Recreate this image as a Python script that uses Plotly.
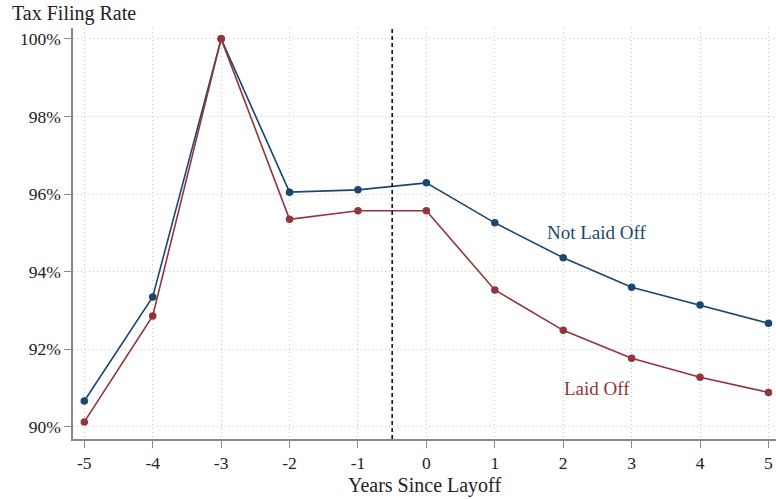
import plotly.graph_objects as go

years = [-5, -4, -3, -2, -1, 0, 1, 2, 3, 4, 5]
not_laid_off = [90.67, 93.35, 100.0, 96.05, 96.11, 96.29, 95.26, 94.36, 93.60, 93.14, 92.67]
laid_off = [90.13, 92.86, 100.0, 95.35, 95.57, 95.57, 93.53, 92.49, 91.77, 91.28, 90.89]
y_ticks = [90, 92, 94, 96, 98, 100]
y_tick_labels = ["90%", "92%", "94%", "96%", "98%", "100%"]
x_ticks = years
layoff_line_x = -0.5

BLUE = "#1a476f"
RED = "#90353b"
FONT = "Liberation Serif"

fig = go.Figure()
fig.add_trace(go.Scatter(x=years, y=not_laid_off, mode="lines+markers",
                         line=dict(color=BLUE, width=1.6),
                         marker=dict(color=BLUE, size=7.5), name="Not Laid Off"))
fig.add_trace(go.Scatter(x=years, y=laid_off, mode="lines+markers",
                         line=dict(color=RED, width=1.6),
                         marker=dict(color=RED, size=7.5), name="Laid Off"))

fig.add_shape(type="line", x0=layoff_line_x, x1=layoff_line_x, y0=0, y1=1,
              xref="x", yref="paper", line=dict(color="black", width=1.5, dash="4px,3px"))

fig.add_annotation(x=2.5, y=95.0, text="Not Laid Off", showarrow=False,
                   font=dict(color=BLUE, size=19, family=FONT))
fig.add_annotation(x=2.5, y=91.0, text="Laid Off", showarrow=False,
                   font=dict(color=RED, size=19, family=FONT))

fig.update_layout(
    width=776, height=499,
    margin=dict(l=73, r=0, t=28, b=60),
    plot_bgcolor="white", paper_bgcolor="white",
    showlegend=False,
    font=dict(family=FONT, size=17.5, color="#222222"),
)
fig.add_annotation(x=0, y=1, xref="paper", yref="paper", xanchor="left", yanchor="bottom",
                   xshift=-63, yshift=1,
                   text="Tax Filing Rate", showarrow=False,
                   font=dict(size=20, family=FONT, color="#222222"))

fig.update_xaxes(range=[-5.165, 5.11], tickmode="array", tickvals=x_ticks,
                 ticktext=[str(v) for v in x_ticks],
                 showgrid=True, gridcolor="#c8c8c8", griddash="1px,3px", gridwidth=1,
                 showline=True, linecolor="#888888", linewidth=1.5,
                 ticks="outside", ticklen=7, tickcolor="#888888",
                 zeroline=False, title=dict(text="Years Since Layoff", standoff=6,
                                             font=dict(size=20)))
fig.update_yaxes(range=[89.69, 100.28], tickmode="array", tickvals=y_ticks,
                 ticktext=y_tick_labels,
                 showgrid=True, gridcolor="#c8c8c8", griddash="1px,3px", gridwidth=1,
                 showline=True, linecolor="#888888", linewidth=1.5,
                 ticks="outside", ticklen=7, tickcolor="#888888",
                 zeroline=False)

fig.write_html("out.html", config={"displayModeBar": False},
               post_script="document.body.style.margin='0';document.body.style.padding='0';")
